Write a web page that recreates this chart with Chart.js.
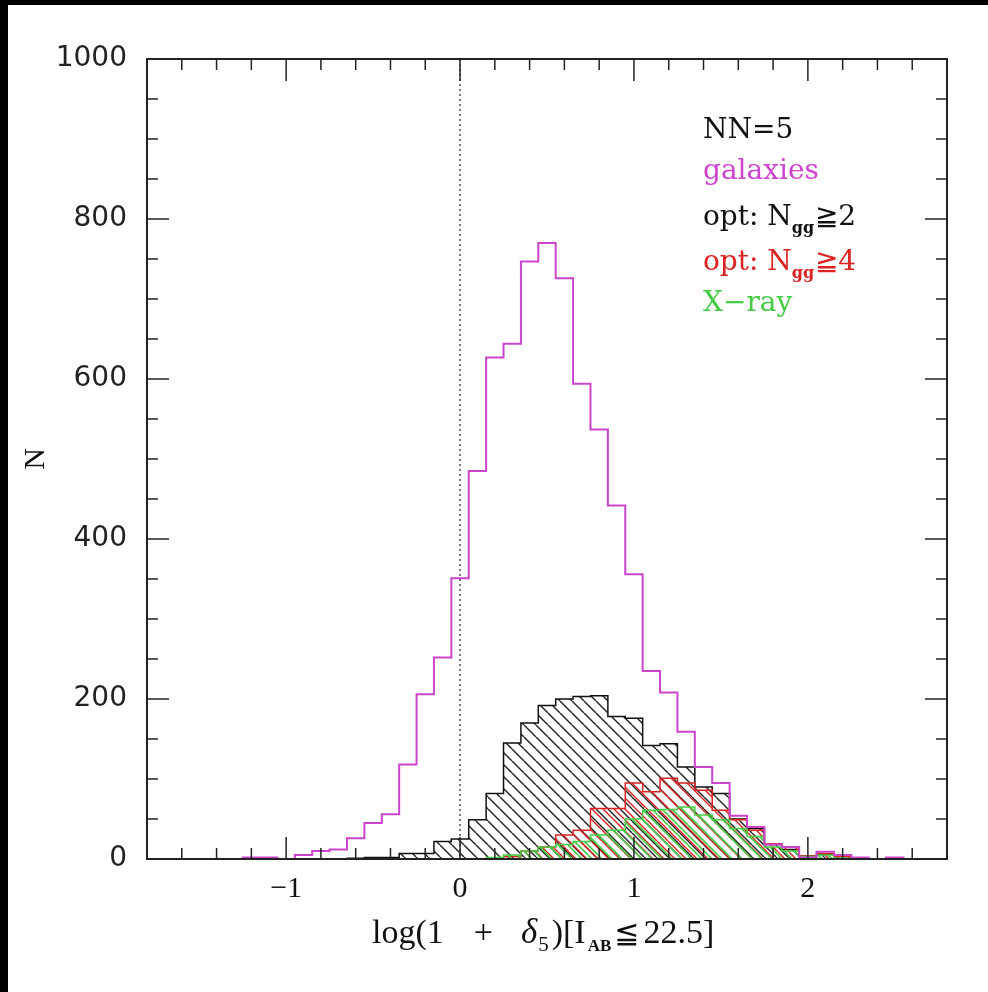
<!DOCTYPE html>
<html>
<head>
<meta charset="utf-8">
<script src="https://cdn.jsdelivr.net/npm/chart.js@4.4.1/dist/chart.umd.min.js"></script>
<style>
html,body{margin:0;padding:0;background:#000;}
#wrap{position:absolute;left:8px;top:5px;width:980px;height:987px;background:#fff;}
</style>
</head>
<body>
<div id="wrap"><canvas id="grafica" width="980" height="987"></canvas></div>
<script>
// histogram bins (centres), width 0.1
var binCentros=[-1.3,-1.2,-1.1,-1.0,-0.9,-0.8,-0.7,-0.6,-0.5,-0.4,-0.3,-0.2,-0.1,0.0,0.1,0.2,0.3,0.4,0.5,0.6,0.7,0.8,0.9,1.0,1.1,1.2,1.3,1.4,1.5,1.6,1.7,1.8,1.9,2.0,2.1,2.2,2.3,2.4,2.5,2.6];
var nGalaxias=[0,2,2,0,5,10,12,26,45,56,118,206,252,351,485,627,644,747,770,726,594,537,442,356,235,208,159,115,95,54,40,18,15,2,9,5,2,0,2,0];
var nOpt2=[0,0,0,0,0,0,0,1,2,2,7,7,22,25,49,82,145,170,192,200,203,204,178,176,142,144,115,90,82,50,38,18,12,4,6,3,0,0,0,0];
var nOpt4=[0,0,0,0,0,0,0,0,0,0,0,0,0,0,0,0,3,10,15,30,36,63,63,95,84,101,95,86,61,49,36,19,15,4,7,3,0,0,0,0];
var nXray=[0,0,0,0,0,0,0,0,0,0,0,0,0,0,0,2,5,10,15,18,22,30,36,50,61,62,65,55,49,38,28,15,10,3,5,1,0,0,0,0];
var xTicks=[-1,0,1,2];
var yTicks=[0,200,400,600,800,1000];
var leyenda=[
  {txt:"NN=5",color:"#111111"},
  {txt:"galaxies",color:"#cc44cc"},
  {txt:"opt: N",sub:"gg",tail:"\u22672",color:"#111111"},
  {txt:"opt: N",sub:"gg",tail:"\u22674",color:"#dd2222"},
  {txt:"X\u2212ray",color:"#44cc44"}
];

var ancho=0.1;
function escalones(centros,valores){
  var pts=[{x:centros[0]-ancho/2,y:0}];
  for(var i=0;i<centros.length;i++){
    pts.push({x:Math.round((centros[i]+ancho/2)*100)/100,y:valores[i]});
  }
  pts.push({x:centros[centros.length-1]+ancho/2,y:0});
  return pts;
}

function rayado(color,dir,paso,grosor){
  var c=document.createElement("canvas");
  c.width=paso;c.height=paso;
  var g=c.getContext("2d");
  g.strokeStyle=color;g.lineWidth=grosor;
  for(var k=-1;k<=1;k++){
    g.beginPath();
    if(dir>0){ g.moveTo(k*paso,paso);g.lineTo(k*paso+paso,0); }
    else { g.moveTo(k*paso,0);g.lineTo(k*paso+paso,paso); }
    g.stroke();
  }
  return g.createPattern(c,"repeat");
}

var cuadro={
  id:"cuadro",
  afterDatasetsDraw:function(chart){
    var ctx=chart.ctx,a=chart.chartArea,sx=chart.scales.x,sy=chart.scales.y;
    ctx.save();
    // dotted zero line
    ctx.strokeStyle="#222";ctx.lineWidth=1.2;ctx.setLineDash([2,3]);
    ctx.beginPath();ctx.moveTo(sx.getPixelForValue(0),a.top);ctx.lineTo(sx.getPixelForValue(0),a.bottom);ctx.stroke();
    ctx.setLineDash([]);
    // frame
    ctx.strokeStyle="#222";ctx.lineWidth=2;
    ctx.strokeRect(a.left,a.top,a.right-a.left,a.bottom-a.top);
    // inward ticks
    ctx.lineWidth=1.5;
    for(var i=-9;i<=14;i++){
      var v=i*0.2;
      if(v<=sx.min+1e-6||v>=sx.max-1e-6)continue;
      var px=sx.getPixelForValue(v);
      var L=(Math.abs(v-Math.round(v))<1e-6)?22:11;
      ctx.beginPath();ctx.moveTo(px,a.bottom);ctx.lineTo(px,a.bottom-L);ctx.stroke();
      ctx.beginPath();ctx.moveTo(px,a.top);ctx.lineTo(px,a.top+L);ctx.stroke();
    }
    for(var j=1;j<20;j++){
      var w=j*50,py=sy.getPixelForValue(w);
      var L2=(w%200===0)?22:11;
      ctx.beginPath();ctx.moveTo(a.left,py);ctx.lineTo(a.left+L2,py);ctx.stroke();
      ctx.beginPath();ctx.moveTo(a.right,py);ctx.lineTo(a.right-L2,py);ctx.stroke();
    }
    // legend
    var lx=a.left+556,ly=[133,174,220,265,306];
    leyenda.forEach(function(it,k){
      ctx.fillStyle=it.color;ctx.textBaseline="alphabetic";
      ctx.font="28px 'DejaVu Serif'";
      ctx.fillText(it.txt,lx,ly[k]);
      if(it.sub){
        var w1=ctx.measureText(it.txt).width;
        ctx.font="bold 16px 'DejaVu Serif'";
        ctx.fillText(it.sub,lx+w1,ly[k]+8);
        var w2=ctx.measureText(it.sub).width;
        ctx.font="28px 'DejaVu Serif'";
        ctx.fillText(it.tail,lx+w1+w2+1,ly[k]);
      }
    });
    // x axis title: [text, font, dy, gap after]
    var partes=[["log(1","34px 'Liberation Serif'",0,30],["+","34px 'Liberation Serif'",0,28],["\u03b4","italic 35px 'Liberation Serif'",0,1],["5","21px 'Liberation Serif'",8,3],[")[I","34px 'Liberation Serif'",0,2],["AB","bold 17px 'Liberation Serif'",8,3],["\u2266","30px 'DejaVu Sans'",0,4],["22.5]","34px 'Liberation Serif'",0,0]];
    var x0=364,yb=938;
    ctx.fillStyle="#111";
    partes.forEach(function(p){ctx.font=p[1];ctx.fillText(p[0],x0,yb+p[2]);x0+=ctx.measureText(p[0]).width+p[3];});
    ctx.restore();
  }
};

var fondo={
  id:"fondo",
  beforeDraw:function(chart){
    var ctx=chart.ctx;ctx.save();ctx.fillStyle="#fff";ctx.fillRect(0,0,chart.width,chart.height);ctx.restore();
  }
};

var ds=function(lbl,datos,borde,relleno,ord,grosor){
  return {label:lbl,data:escalones(binCentros,datos),borderColor:borde,backgroundColor:relleno||"rgba(0,0,0,0)",
    fill:relleno?"origin":false,stepped:"after",pointRadius:0,borderWidth:grosor,order:ord,tension:0};
};

new Chart(document.getElementById("grafica"),{
  type:"line",
  data:{datasets:[
    ds("galaxies",nGalaxias,"#cc44cc",null,0,2),
    ds("X-ray",nXray,"#44cc44",rayado("#44cc44",-1,10,1.6),1,1.5),
    ds("opt Ngg>=4",nOpt4,"#dd2222",rayado("#dd2222",-1,11,1.4),2,1.5),
    ds("opt Ngg>=2",nOpt2,"#111111",rayado("#222222",-1,12,1.4),3,1.5)
  ]},
  options:{
    responsive:false,animation:false,devicePixelRatio:1,
    layout:{padding:{top:54,right:41,left:0,bottom:0}},
    plugins:{legend:{display:false},tooltip:{enabled:false}},
    scales:{
      x:{type:"linear",min:-1.8,max:2.8,
        grid:{display:false,drawTicks:false},border:{display:false},
        afterBuildTicks:function(s){s.ticks=xTicks.map(function(v){return {value:v};});},
        afterFit:function(s){s.height=987-854;},
        ticks:{padding:12,color:"#111",font:{family:"'Liberation Serif'",size:30},
          callback:function(v){return v<0?"\u2212"+Math.abs(v):String(v);}}},
      y:{type:"linear",min:0,max:1000,
        grid:{display:false,drawTicks:false},border:{display:false},
        afterBuildTicks:function(s){s.ticks=yTicks.map(function(v){return {value:v};});},
        afterFit:function(s){s.width=139;},
        title:{display:true,text:"N",color:"#111",font:{family:"'Liberation Serif'",size:30},padding:{top:10,bottom:0}},
        ticks:{padding:20,color:"#222",font:{family:"'DejaVu Sans'",size:28},
          callback:function(v){return String(v);}}}
    }
  },
  plugins:[fondo,cuadro]
});
</script>
</body>
</html>
